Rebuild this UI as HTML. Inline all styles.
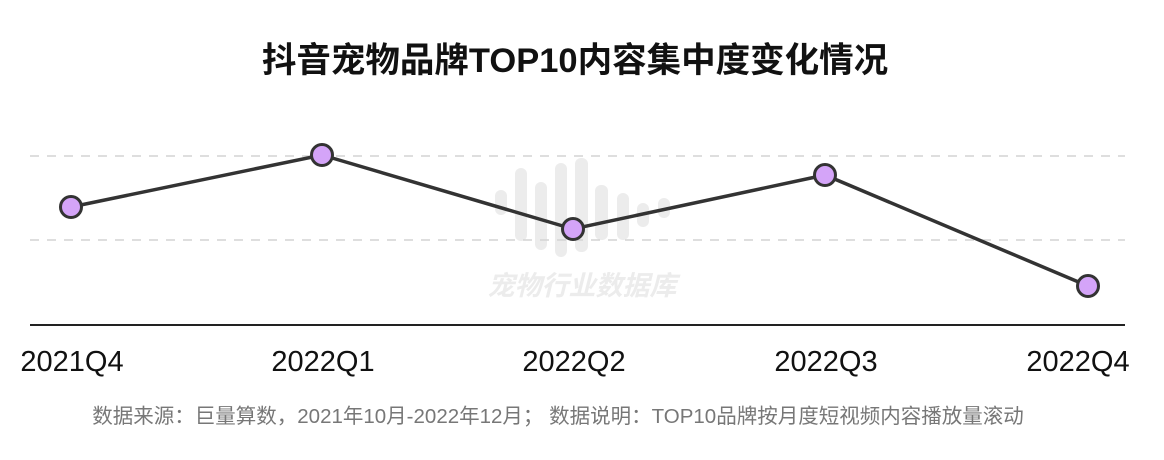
<!DOCTYPE html>
<html><head><meta charset="utf-8"><style>
body{margin:0;background:#fff;width:1164px;height:455px;overflow:hidden;font-family:"Liberation Sans","Noto Sans CJK SC",sans-serif;}
</style></head><body>
<svg width="1164" height="455" xmlns="http://www.w3.org/2000/svg" font-family="Liberation Sans, Noto Sans CJK SC, sans-serif">
<text x="575" y="72" text-anchor="middle" font-size="34.5" font-weight="bold" fill="#111">抖音宠物品牌TOP10内容集中度变化情况</text>
<g fill="#ececec">
<rect x="495" y="190" width="12" height="25" rx="6"/>
<rect x="515" y="168" width="12" height="73" rx="6"/>
<rect x="535" y="182" width="12" height="68" rx="6"/>
<rect x="555" y="163" width="12" height="94" rx="6"/>
<rect x="575" y="158" width="13" height="94" rx="6"/>
<rect x="595" y="185" width="13" height="55" rx="6"/>
<rect x="617" y="193" width="12" height="47" rx="6"/>
<rect x="637" y="203" width="12" height="24" rx="6"/>
<rect x="658" y="198" width="12" height="20" rx="6"/>
</g>
<text x="582" y="295" text-anchor="middle" font-size="27" font-weight="bold" font-style="italic" fill="#ececec">宠物行业数据库</text>
<line x1="30" y1="156" x2="1125" y2="156" stroke="#d4d4d4" stroke-width="1.5" stroke-dasharray="9,8"/>
<line x1="30" y1="240" x2="1125" y2="240" stroke="#d4d4d4" stroke-width="1.5" stroke-dasharray="9,8"/>
<line x1="30" y1="325" x2="1125" y2="325" stroke="#222" stroke-width="2"/>
<polyline points="71,207 322,155 573,229 825,175 1088,286" fill="none" stroke="#333" stroke-width="3.5"/>
<g fill="#d4a4f8" stroke="#333" stroke-width="3">
<circle cx="71" cy="207" r="10.5"/><circle cx="322" cy="155" r="10.5"/><circle cx="573" cy="229" r="10.5"/><circle cx="825" cy="175" r="10.5"/><circle cx="1088" cy="286" r="10.5"/>
</g>
<g font-size="29" fill="#111" text-anchor="middle">
<text x="72" y="371">2021Q4</text><text x="323" y="371">2022Q1</text><text x="574" y="371">2022Q2</text><text x="826" y="371">2022Q3</text><text x="1078" y="371">2022Q4</text>
</g>
<text x="558" y="423" text-anchor="middle" font-size="20.5" fill="#777">数据来源：巨量算数，2021年10月-2022年12月；  数据说明：TOP10品牌按月度短视频内容播放量滚动</text>
</svg>
</body></html>
